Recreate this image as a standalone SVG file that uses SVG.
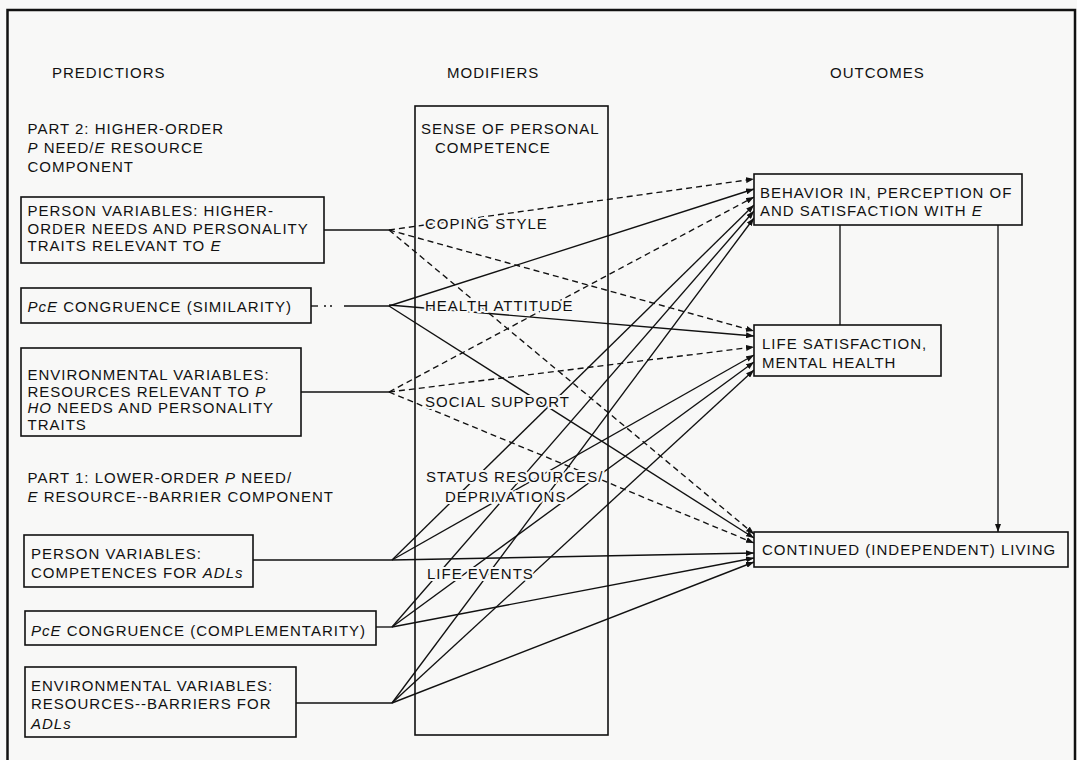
<svg xmlns="http://www.w3.org/2000/svg" width="1077" height="760" viewBox="0 0 1077 760">
  <style>
    text { font-family: "Liberation Sans", Arial, sans-serif; font-size: 15px; letter-spacing: 1px; fill: #111; }
    .it { font-style: italic; }
    .box { fill: #f8f8f7; stroke: #111; stroke-width: 1.6; }
    .frame { fill: none; stroke: #111; stroke-width: 2.5; }
    .solid { fill: none; stroke: #111; stroke-width: 1.35; }
    .dashed { fill: none; stroke: #111; stroke-width: 1.35; stroke-dasharray: 6 4; }
    .arrow { marker-end: url(#head); }
    .halo { stroke: #f8f8f7; stroke-width: 4; paint-order: stroke; stroke-linejoin: round; }
  </style>
  <defs>
    <marker id="head" viewBox="0 0 8 6" refX="8" refY="3" markerWidth="8" markerHeight="6" markerUnits="userSpaceOnUse" orient="auto">
      <path d="M0,0 L8,3 L0,6 Z" fill="#111"/>
    </marker>
  </defs>

  <rect x="0" y="0" width="1077" height="760" fill="#f8f8f7"/>
  <path class="frame" d="M7.5,762 V10 H1075 V762"/>

  <!-- column headings -->
  <g id="headings">
    <text x="52" y="77.5">PREDICTIORS</text>
    <text x="447" y="77.5">MODIFIERS</text>
    <text x="830" y="77.5">OUTCOMES</text>
  </g>

  <!-- section captions -->
  <g id="part2-caption">
    <text x="27.5" y="134">PART 2:  HIGHER-ORDER</text>
    <text x="27.5" y="152.5"><tspan class="it">P</tspan> NEED/<tspan class="it">E</tspan> RESOURCE</text>
    <text x="27.5" y="171.5">COMPONENT</text>
  </g>
  <g id="part1-caption">
    <text x="27.5" y="483">PART 1:  LOWER-ORDER <tspan class="it">P</tspan> NEED/</text>
    <text x="27.5" y="502"><tspan class="it">E</tspan> RESOURCE--BARRIER COMPONENT</text>
  </g>

  <!-- connectors -->
  <g id="connectors">
    <!-- feeds from predictor boxes to junctions -->
    <line class="solid" x1="324" y1="230" x2="389" y2="230"/>
    <line class="solid" x1="311" y1="306" x2="318" y2="306"/>
    <line class="solid" x1="324" y1="306" x2="326" y2="306"/>
    <line class="solid" x1="330" y1="306" x2="332" y2="306"/>
    <line class="solid" x1="344" y1="306" x2="389" y2="306"/>
    <line class="solid" x1="301" y1="392" x2="389" y2="392"/>
    <line class="solid" x1="253" y1="560" x2="392" y2="560"/>
    <line class="solid" x1="376" y1="627" x2="392" y2="627"/>
    <line class="solid" x1="296" y1="703" x2="392" y2="703"/>

    <!-- higher-order person variables (dashed) -->
    <line class="dashed arrow" x1="389" y1="230" x2="754" y2="179"/>
    <line class="dashed arrow" x1="389" y1="230" x2="754" y2="331"/>
    <line class="dashed arrow" x1="389" y1="230" x2="754" y2="534"/>
    <!-- similarity congruence (solid) -->
    <line class="solid arrow" x1="389" y1="306" x2="754" y2="189"/>
    <line class="solid arrow" x1="389" y1="305" x2="754" y2="336"/>
    <line class="solid arrow" x1="389" y1="306" x2="754" y2="538"/>
    <!-- higher-order environmental variables (dashed) -->
    <line class="dashed arrow" x1="389" y1="392" x2="754" y2="197"/>
    <line class="dashed arrow" x1="389" y1="392" x2="754" y2="347"/>
    <line class="dashed arrow" x1="389" y1="392" x2="754" y2="543"/>
    <!-- competences for ADLs -->
    <line class="solid arrow" x1="392" y1="560" x2="754" y2="205"/>
    <line class="solid arrow" x1="392" y1="560" x2="754" y2="355"/>
    <line class="solid arrow" x1="392" y1="560" x2="754" y2="553"/>
    <!-- complementarity congruence -->
    <line class="solid arrow" x1="392" y1="627" x2="754" y2="211"/>
    <line class="solid arrow" x1="392" y1="627" x2="754" y2="362"/>
    <line class="solid arrow" x1="392" y1="627" x2="754" y2="558"/>
    <!-- resources/barriers for ADLs -->
    <line class="solid arrow" x1="392" y1="703" x2="754" y2="218"/>
    <line class="solid arrow" x1="392" y1="703" x2="754" y2="370"/>
    <line class="solid arrow" x1="392" y1="703" x2="754" y2="562"/>

    <!-- links between outcomes -->
    <line class="solid" x1="840" y1="225" x2="840" y2="325"/>
    <line class="solid arrow" x1="998" y1="225" x2="998" y2="532"/>
  </g>

  <!-- modifiers column -->
  <g id="modifiers">
    <rect x="415" y="106" width="193" height="629" fill="none" stroke="#111" stroke-width="1.6"/>
    <text class="halo" x="421" y="133.5">SENSE OF PERSONAL</text>
    <text class="halo" x="435" y="152.5">COMPETENCE</text>
    <text class="halo" x="425" y="228.5">COPING STYLE</text>
    <text class="halo" x="425" y="311">HEALTH ATTITUDE</text>
    <text class="halo" x="425" y="407">SOCIAL SUPPORT</text>
    <text class="halo" x="426" y="482">STATUS RESOURCES/</text>
    <text class="halo" x="445" y="501.5">DEPRIVATIONS</text>
    <text class="halo" x="427" y="578.5">LIFE EVENTS</text>
  </g>

  <!-- predictor boxes -->
  <g id="ho-person">
    <rect class="box" x="21" y="197" width="303" height="66"/>
    <text x="27.5" y="215.5">PERSON VARIABLES:  HIGHER-</text>
    <text x="27.5" y="233.5">ORDER NEEDS AND PERSONALITY</text>
    <text x="27.5" y="250.5">TRAITS RELEVANT TO <tspan class="it">E</tspan></text>
  </g>
  <g id="similarity">
    <rect class="box" x="21" y="288" width="290" height="35"/>
    <text x="27.5" y="312"><tspan class="it">PcE</tspan>  CONGRUENCE (SIMILARITY)</text>
  </g>
  <g id="ho-environment">
    <rect class="box" x="21" y="348" width="280" height="88"/>
    <text x="27.5" y="379.5">ENVIRONMENTAL VARIABLES:</text>
    <text x="27.5" y="396.5">RESOURCES RELEVANT TO <tspan class="it">P</tspan></text>
    <text x="27.5" y="413"><tspan class="it">HO</tspan> NEEDS AND PERSONALITY</text>
    <text x="27.5" y="429.5">TRAITS</text>
  </g>
  <g id="lo-person">
    <rect class="box" x="24" y="535" width="229" height="52"/>
    <text x="31" y="558.5">PERSON VARIABLES:</text>
    <text x="31" y="577.5">COMPETENCES FOR <tspan class="it">ADLs</tspan></text>
  </g>
  <g id="complementarity">
    <rect class="box" x="25" y="611" width="351" height="34"/>
    <text x="31" y="635.5"><tspan class="it">PcE</tspan>  CONGRUENCE (COMPLEMENTARITY)</text>
  </g>
  <g id="lo-environment">
    <rect class="box" x="25" y="667" width="271" height="70"/>
    <text x="31" y="690.5">ENVIRONMENTAL VARIABLES:</text>
    <text x="31" y="708.5">RESOURCES--BARRIERS FOR</text>
    <text x="31" y="728.5" class="it">ADLs</text>
  </g>

  <!-- outcome boxes -->
  <g id="behavior">
    <rect class="box" x="754" y="174" width="268" height="51"/>
    <text x="760" y="197.5">BEHAVIOR IN, PERCEPTION OF</text>
    <text x="760" y="215.5">AND SATISFACTION WITH <tspan class="it">E</tspan></text>
  </g>
  <g id="life-satisfaction">
    <rect class="box" x="754" y="325" width="187" height="51"/>
    <text x="762" y="348.5">LIFE SATISFACTION,</text>
    <text x="762" y="367.5">MENTAL HEALTH</text>
  </g>
  <g id="continued-living">
    <rect class="box" x="754" y="532" width="314" height="35"/>
    <text x="762" y="554.5">CONTINUED (INDEPENDENT) LIVING</text>
  </g>
</svg>
